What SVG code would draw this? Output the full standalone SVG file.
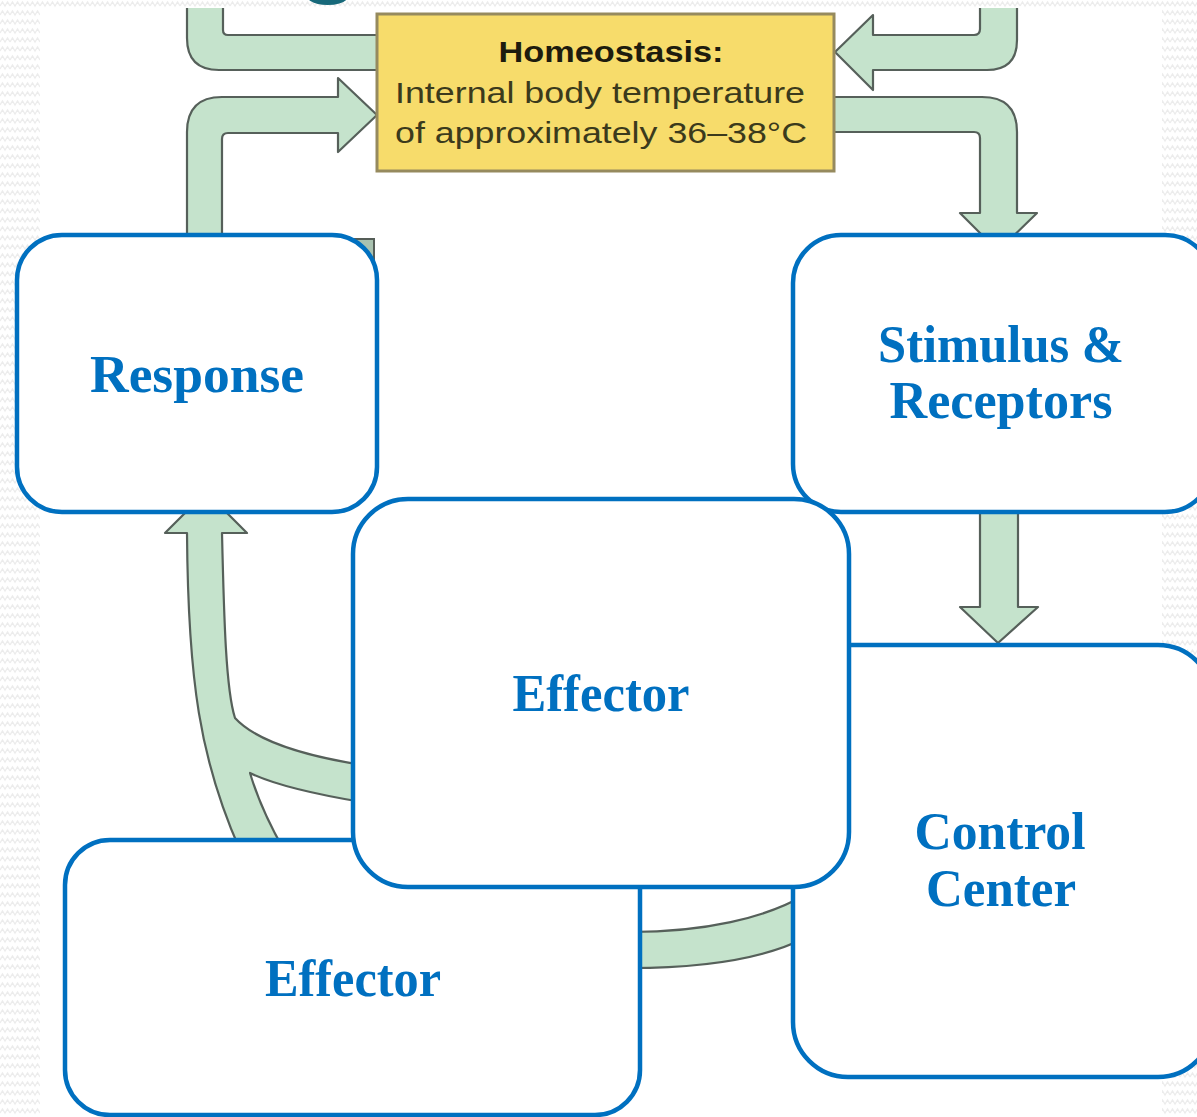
<svg xmlns="http://www.w3.org/2000/svg" width="1197" height="1117" viewBox="0 0 1197 1117">
  <defs>
    <pattern id="zig" width="10" height="9" patternUnits="userSpaceOnUse">
      <rect width="10" height="9" fill="#ffffff"/>
      <path d="M0,6 L2.5,2 L5,6 L7.5,2 L10,6" fill="none" stroke="#ececec" stroke-width="1.2"/>
    </pattern>
    <style>
      .band { fill: #c5e3cc; stroke: #56605a; stroke-width: 2.2; stroke-linejoin: round; }
      .box { fill: #ffffff; stroke: #0070C0; stroke-width: 4.5; }
      .lbl { font-family: "Liberation Serif", "Times New Roman", serif; font-weight: bold; font-size: 52px; fill: #0070C0; text-anchor: middle; }
      .ht { font-family: "Liberation Sans", Arial, sans-serif; font-size: 29px; fill: #3b3a1c; }
    </style>
  </defs>

  <!-- background -->
  <rect x="0" y="0" width="1197" height="1117" fill="url(#zig)"/>
  <rect x="40" y="8" width="1122" height="1109" fill="#ffffff"/>

  <!-- cut-off title glyph -->
  <text x="329" y="-18" font-family="Liberation Sans, Arial, sans-serif" font-weight="bold" font-size="110" fill="#17697a" text-anchor="middle">g</text>

  <!-- connectors -->
  <g id="connectors">
    <!-- incoming from top into homeostasis (left) -->
    <path class="band" d="M223,8 V30 Q223,35 228,35 H380 V70 H219 Q187,70 187,38 V8"/>
    <!-- response up to homeostasis -->
    <path class="band" d="M187,240 V132 Q187,97 222,97 H338 V78 L377,115 L338,152 V133 H228 Q222,133 222,139 V240 Z"/>
    <!-- incoming from top into homeostasis (right) -->
    <path class="band" d="M980,8 V29 Q980,35 974,35 H873 V15 L835,52 L873,90 V70 H987 Q1017,70 1017,40 V8"/>
    <!-- homeostasis to stimulus -->
    <path class="band" d="M830,97 H982 Q1017,97 1017,132 V213 H1037 L998,251 L960,213 H980 V138 Q980,132 974,132 H830 Z"/>
    <!-- stimulus to control center -->
    <path class="band" d="M980,505 V607 H960 L998,643 L1038,607 H1018 V505 Z"/>
    <!-- control center to effector -->
    <path class="band" d="M805,895 C765,918 705,932 630,932 V968 C705,968 765,958 805,938 Z"/>
    <!-- effectors up to response -->
    <path class="band" d="M206,492 L247,533 H222 C224,620 226,690 235,718 C255,740 300,755 362,765 L362,802 C320,795 275,785 250,773 C258,800 268,822 284,850 L240,850 C200,760 188,680 187,533 H165 Z"/>
    <!-- small hidden arrow corner -->
    <rect x="350" y="239" width="24" height="24" fill="#a9c2b0" stroke="#555d57" stroke-width="2"/>
  </g>

  <!-- homeostasis node -->
  <g id="homeostasis">
    <rect x="377" y="14" width="457" height="157" fill="#f7dc6b" stroke="#968a5e" stroke-width="3"/>
    <text x="611" y="62" font-family="Liberation Sans, Arial, sans-serif" font-weight="bold" font-size="29" fill="#1e1c0e" text-anchor="middle" textLength="225" lengthAdjust="spacingAndGlyphs">Homeostasis:</text>
    <text class="ht" x="395" y="103" textLength="410" lengthAdjust="spacingAndGlyphs">Internal body temperature</text>
    <text class="ht" x="395" y="143" textLength="412" lengthAdjust="spacingAndGlyphs">of approximately 36–38°C</text>
  </g>

  <!-- nodes -->
  <g id="response">
    <rect class="box" x="17" y="235" width="360" height="277" rx="45" ry="45"/>
    <text class="lbl" x="197" y="392" textLength="214" lengthAdjust="spacingAndGlyphs">Response</text>
  </g>
  <g id="stimulus">
    <rect class="box" x="793" y="235" width="420" height="277" rx="48" ry="48"/>
    <text class="lbl" x="1001" y="362" textLength="246" lengthAdjust="spacingAndGlyphs">Stimulus &amp;</text>
    <text class="lbl" x="1001" y="418" textLength="223" lengthAdjust="spacingAndGlyphs">Receptors</text>
  </g>
  <g id="control-center">
    <rect class="box" x="793" y="645" width="420" height="432" rx="55" ry="55"/>
    <text class="lbl" x="1000" y="849" textLength="171" lengthAdjust="spacingAndGlyphs">Control</text>
    <text class="lbl" x="1001" y="906" textLength="150" lengthAdjust="spacingAndGlyphs">Center</text>
  </g>
  <g id="effector-bottom">
    <rect class="box" x="65" y="840" width="575" height="275" rx="45" ry="45"/>
    <text class="lbl" x="353" y="996" textLength="176" lengthAdjust="spacingAndGlyphs">Effector</text>
  </g>
  <g id="effector-middle">
    <rect class="box" x="353" y="499" width="496" height="388" rx="55" ry="55"/>
    <text class="lbl" x="601" y="711" textLength="177" lengthAdjust="spacingAndGlyphs">Effector</text>
  </g>
</svg>
